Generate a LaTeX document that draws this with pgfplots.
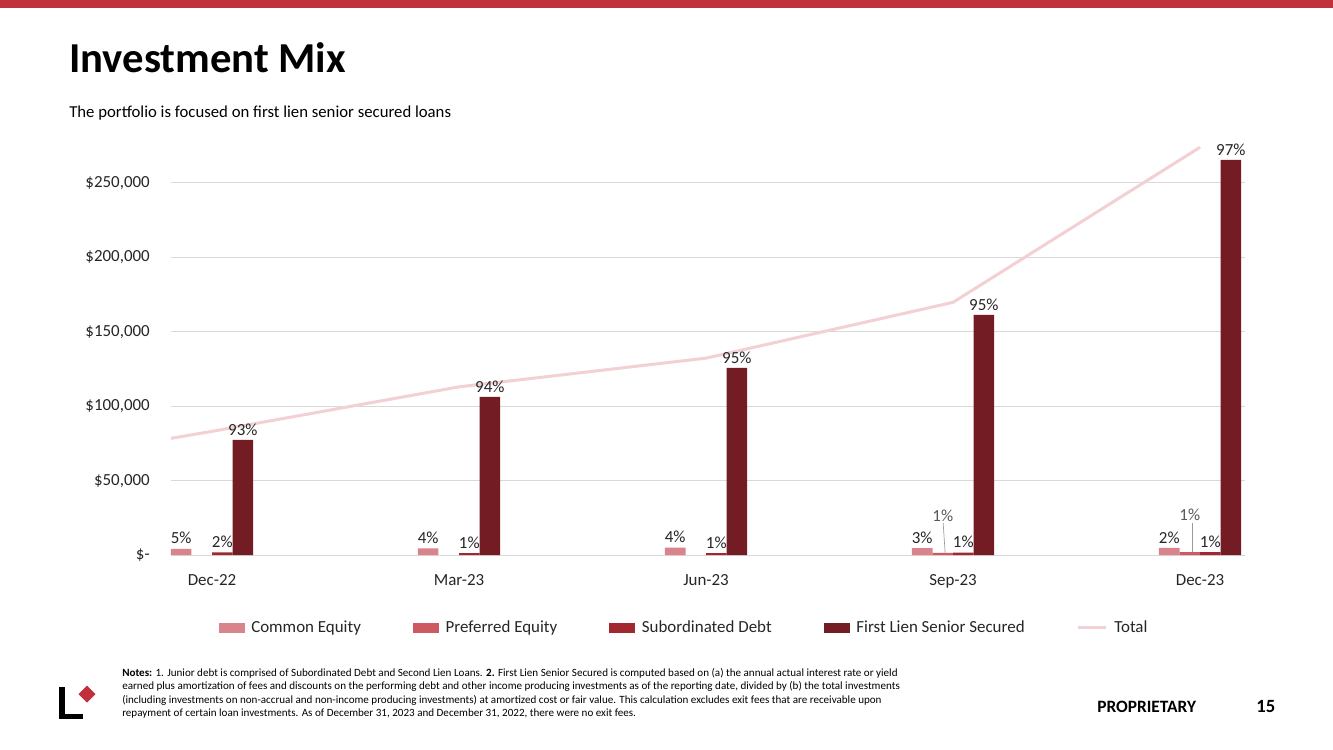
\documentclass[border=0pt]{standalone}
\usepackage{pgfplots}
\pgfplotsset{compat=1.18}
\usepackage{fontspec}
\setmainfont{Carlito}
\definecolor{cCommon}{HTML}{D8848A}
\definecolor{cPref}{HTML}{CC5A60}
\definecolor{cSub}{HTML}{A0282E}
\definecolor{cFirst}{HTML}{741C23}
\definecolor{cTotal}{HTML}{F2D0D3}
\definecolor{cGrid}{HTML}{D9D9D9}
\definecolor{cText}{HTML}{262626}
\definecolor{cLead}{HTML}{595959}
\definecolor{cRed}{HTML}{C0313C}
\pgfplotsset{
  barleg/.style={legend image code/.code={\fill[##1] (0pt,-3.75pt) rectangle (19.5pt,3.75pt); \path (22.5pt,0pt);}},
  linleg/.style={legend image code/.code={\draw[##1] (0pt,0pt) -- (21pt,0pt); \path (24pt,0pt);}},
  pctlabels/.style={point meta=explicit symbolic, nodes near coords,
    every node near coord/.append style={font=\fontsize{12.7}{14}\selectfont, text=cText}},
  leadlabels/.style={every node near coord/.append style={yshift=20pt, text=cLead}},
}
\begin{document}
\begin{tikzpicture}
\begin{scope}[x=0.75pt,y=-0.75pt]
\useasboundingbox (0,0) rectangle (1333,749);
\fill[white] (0,0) rectangle (1333,749);
\fill[cRed] (0,0) rectangle (1333,8.5);
\node[anchor=base west, inner sep=0, font=\fontsize{32}{36}\selectfont\bfseries] at (69,72) {Investment Mix};
\node[anchor=base west, inner sep=0, font=\fontsize{12.55}{14}\selectfont] at (69,117) {The portfolio is focused on first lien senior secured loans};
\node[anchor=north west, inner sep=0, align=left, font=\fontsize{8.3}{10.1}\selectfont] at (122,668) {\textbf{Notes:} 1. Junior debt is comprised of Subordinated Debt and Second Lien Loans. \textbf{2.} First Lien Senior Secured is computed based on (a) the annual actual interest rate or yield\\
earned plus amortization of fees and discounts on the performing debt and other income producing investments as of the reporting date, divided by (b) the total investments\\
(including investments on non-accrual and non-income producing investments) at amortized cost or fair value. This calculation excludes exit fees that are receivable upon\\
repayment of certain loan investments. As of December 31, 2023 and December 31, 2022, there were no exit fees.};
\fill[black] (59,687) rectangle (65,719);
\fill[black] (59,714) rectangle (83,719);
\fill[cRed] (87,685.5) -- (95.5,694) -- (87,702.5) -- (78.5,694) -- cycle;
\node[anchor=west, inner sep=0, font=\fontsize{13}{15}\selectfont\bfseries] at (1097,707) {PROPRIETARY};
\node[anchor=west, inner sep=0, font=\fontsize{14}{16}\selectfont\bfseries] at (1256,706) {15};
\end{scope}
\begin{axis}[
  at={(128.25pt,-416.25pt)}, anchor=south west,
  width=805.5pt, height=312.5pt, scale only axis,
  xmin=-0.166, xmax=4.182, ymin=0, ymax=280000,
  clip=false,
  ybar=0pt, bar width=15.4pt,
  axis line style={draw=none}, tick style={draw=none},
  ymajorgrids, major grid style={draw=cGrid, line width=0.75pt},
  xtick={0,1,2,3,4},
  xticklabels={Dec-22,Mar-23,Jun-23,Sep-23,Dec-23},
  ytick={0,50000,100000,150000,200000,250000},
  yticklabels={{\$-},{\$50,000},{\$100,000},{\$150,000},{\$200,000},{\$250,000}},
  scaled y ticks=false,
  ticklabel style={font=\fontsize{12.7}{14}\selectfont, text=cText},
  yticklabel style={inner sep=0pt, xshift=-15.75pt},
  xticklabel style={inner sep=0pt, yshift=-10pt},
  legend columns=5,
  legend style={draw=none, at={(0.478,-0.175)}, anchor=center,
    font=\fontsize{12.7}{14}\selectfont, text=cText,
    /tikz/every even column/.append style={column sep=37pt}},
]
\addplot[fill=cCommon, draw=none, barleg, pctlabels] coordinates {
  (0,4200) [5\%] (1,4500) [4\%] (2,5000) [4\%] (3,4600) [3\%] (4,4800) [2\%]};
\addlegendentry{Common Equity}
\addplot[fill=cPref, draw=none, barleg, pctlabels, leadlabels] coordinates {
  (3,1500) [1\%] (4,2000) [1\%]};
\addlegendentry{Preferred Equity}
\addplot[fill=cSub, draw=none, barleg, pctlabels] coordinates {
  (0,1700) [2\%] (1,1200) [1\%] (2,1300) [1\%] (3,1600) [1\%] (4,2000) [1\%]};
\addlegendentry{Subordinated Debt}
\addplot[fill=cFirst, draw=none, barleg, pctlabels] coordinates {
  (0,77300) [93\%] (1,106200) [94\%] (2,125700) [95\%] (3,161300) [95\%] (4,265500) [97\%]};
\addlegendentry{First Lien Senior Secured}
\addplot[sharp plot, mark=none, draw=cTotal, line width=2.25pt, linleg] coordinates {
  (-0.166,78400) (0,83100) (1,113000) (2,132300) (3,169800) (4,274000)};
\addlegendentry{Total}
\draw[cLead!60, line width=0.5pt] (axis cs:2.968,1400) -- (axis cs:2.960,21500);
\draw[cLead!60, line width=0.5pt] (axis cs:3.968,2100) -- (axis cs:3.968,21500);
\end{axis}
\end{tikzpicture}
\end{document}
